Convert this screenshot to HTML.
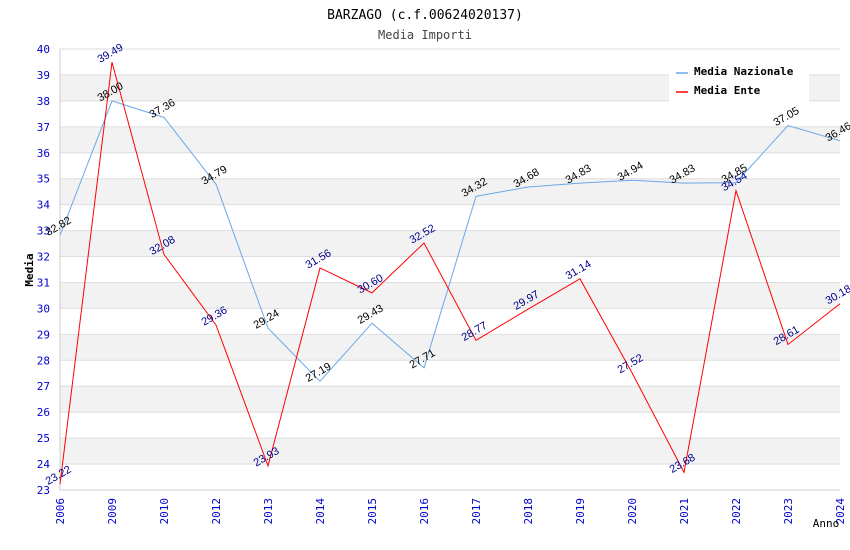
<!DOCTYPE html>
<html><head><meta charset="utf-8"><style>
body{margin:0;background:#fff;}
svg{display:block;font-family:"DejaVu Sans Mono","Liberation Mono",monospace;}
</style></head><body>
<svg id="chart" width="850" height="550">
<text x="425" y="19" text-anchor="middle" font-size="13" fill="#000">BARZAGO (c.f.00624020137)</text>
<text x="425" y="39" text-anchor="middle" font-size="12" fill="#444">Media Importi</text>
<g id="bands"></g><g id="grid"></g><g id="axes"></g><g id="series"></g><g id="labels"></g>
<text x="33" y="270" transform="rotate(-90 33 270)" text-anchor="middle" font-size="11" font-weight="bold">Media</text>
<text x="826" y="527" text-anchor="middle" font-size="11">Anno</text>
<g>
<rect x="669" y="60" width="140" height="42" fill="#fff"/>
<line x1="676" y1="73" x2="688" y2="73" stroke="#6aa8e8" stroke-width="1.5"/>
<text x="694" y="75" font-size="11" font-weight="bold">Media Nazionale</text>
<line x1="676" y1="92" x2="688" y2="92" stroke="#ff0000" stroke-width="1.5"/>
<text x="694" y="94" font-size="11" font-weight="bold">Media Ente</text>
</g>
</svg>
<script>
const categories=["2006","2009","2010","2012","2013","2014","2015","2016","2017","2018","2019","2020","2021","2022","2023","2024"];
const nazionale=[32.82,38.00,37.36,34.79,29.24,27.19,29.43,27.71,34.32,34.68,34.83,34.94,34.83,34.85,37.05,36.46];
const ente=[23.22,39.49,32.08,29.36,23.93,31.56,30.60,32.52,28.77,29.97,31.14,27.52,23.68,34.54,28.61,30.18];
const yTicks=[23,24,25,26,27,28,29,30,31,32,33,34,35,36,37,38,39,40];
const NS="http://www.w3.org/2000/svg";
const L=60,R=840,T=49,B=490,yMin=23,yMax=40;
const x=i=>L+i*(R-L)/(categories.length-1);
const y=v=>B-(v-yMin)*(B-T)/(yMax-yMin);
function mk(tag,attrs,parent){const e=document.createElementNS(NS,tag);for(const k in attrs)e.setAttribute(k,attrs[k]);document.getElementById(parent).appendChild(e);return e;}
for(let v=yMin;v<yMax;v++){
  if(v%2===0&&v>=24){const r=mk('rect',{x:L,y:y(v+1),width:R-L,height:y(v)-y(v+1),fill:'#f2f2f2'},'bands');
  
  }
}
yTicks.forEach(v=>{
  const l=mk('line',{x1:L,x2:R,y1:y(v),y2:y(v),stroke:'#ddd','stroke-width':1},'grid');
  
  
  const t=mk('text',{x:L-10,y:y(v)+4,'text-anchor':'end','font-size':11,fill:'#00c'},'axes');
  t.textContent=v;
  
  
});
const ax=mk('line',{x1:L,x2:L,y1:T,y2:B,stroke:'#ccc'},'axes');


const bx=mk('line',{x1:L,x2:R,y1:B,y2:B,stroke:'#ccc'},'axes');


categories.forEach((c,i)=>{
  const tx=x(i),ty=B+8;
  const t=mk('text',{x:tx+4,y:ty,'text-anchor':'end','font-size':11,fill:'#00c',transform:`rotate(-90 ${tx+4} ${ty})`},'axes');
  t.textContent=c;
  
  
});
function series(data,color,lc,name){
  const p=mk('polyline',{points:data.map((v,i)=>x(i)+','+y(v)).join(' '),fill:'none',stroke:color,'stroke-width':1},'series');
  
  
  data.forEach((v,i)=>{
    const px=x(i),py=y(v)-6;
    const t=mk('text',{x:px,y:py,'text-anchor':'middle','font-family':'Liberation Sans, sans-serif','font-size':11,fill:lc,transform:`rotate(-30 ${px} ${py})`},'labels');
    t.textContent=v.toFixed(2);
    
    
  });
}
series(nazionale,'#6aa8e8','#000','nazionale');
series(ente,'#ff0000','#00008b','ente');
</script>
</body></html>
